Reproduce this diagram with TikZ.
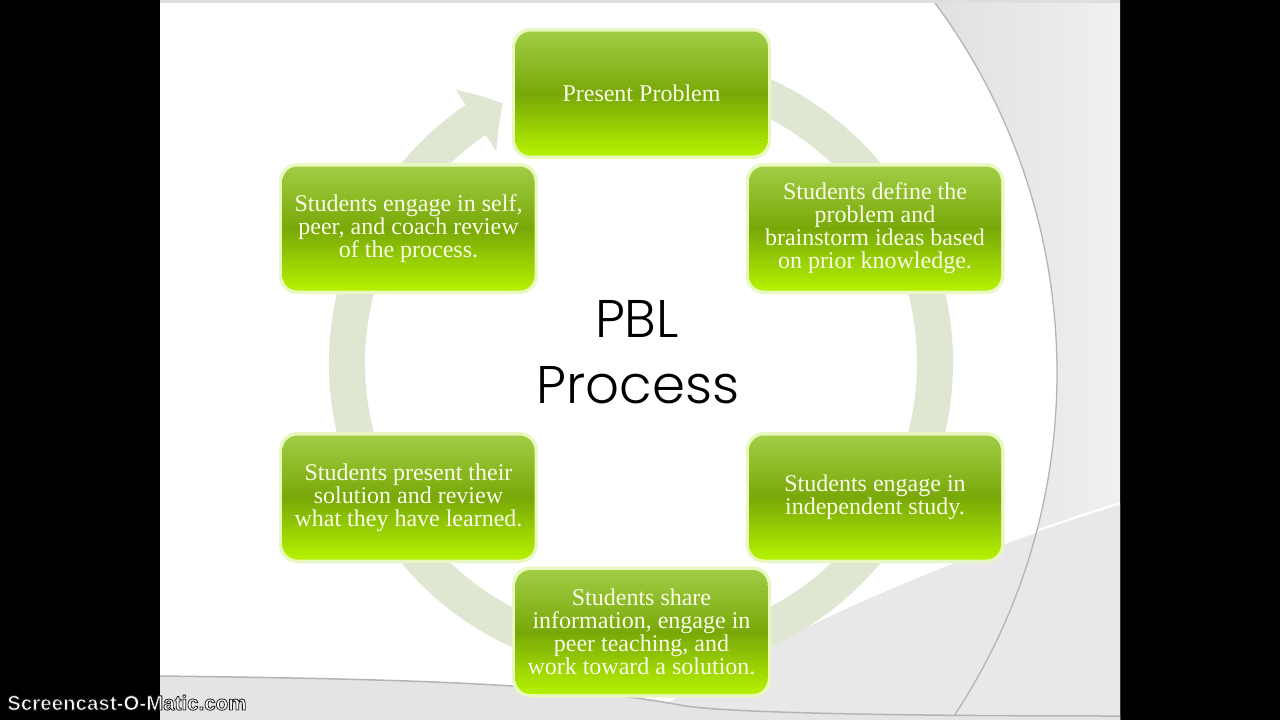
\documentclass[tikz,border=0pt]{standalone}
\usepackage{fontspec}
\setmainfont{Liberation Serif}
\newfontfamily\pblfont{Poppins Light}
\newfontfamily\scfont{Liberation Sans}
\usetikzlibrary{arrows.meta,bending}
\definecolor{ringc}{RGB}{223,231,210}
\definecolor{boxtop}{RGB}{160,205,70}
\definecolor{boxmid}{RGB}{120,168,8}
\definecolor{boxbot}{RGB}{182,242,0}
\definecolor{glowc}{RGB}{232,248,192}
\definecolor{txtc}{RGB}{250,252,232}
\definecolor{grayA}{RGB}{222,222,222}
\definecolor{grayB}{RGB}{240,240,240}
\definecolor{sweepc}{RGB}{232,232,232}
\definecolor{bandc}{RGB}{228,228,228}
\definecolor{linec}{RGB}{180,180,180}
\newcommand\scoutline[1]{{\color{white}\special{pdf:literal 2 Tr 0.8 w 0.1 0.1 0.1 RG 1 j}#1\special{pdf:literal 0 Tr}}}
\begin{document}
\begin{tikzpicture}[x=1pt,y=-1pt,
  stepbox/.style={rounded corners=15pt, minimum width=252pt, minimum height=124pt,
    top color=boxtop, bottom color=boxbot, middle color=boxmid,
    preaction={draw=glowc, line width=7pt},
    text=txtc, align=center, font=\fontsize{24}{23}\selectfont, inner sep=0pt},
  titletext/.style={font=\pblfont\fontsize{53}{60}\selectfont, text=black, anchor=base, inner sep=0pt},
]
\useasboundingbox (0,0) rectangle (1280,720);
% screen and slide
\fill[black] (0,0) rectangle (1280,720);
\begin{scope}
  \clip (160,0) rectangle (1120,720);
  \shade[left color=grayA, right color=grayB] (900,0) rectangle (1120,720);
  \fill[white] (435,373) circle (622);
  \fill[sweepc] (640,720) .. controls (760,645) and (900,575) .. (1120,505) -- (1120,720) -- cycle;
  \draw[white, line width=2pt] (640,718) .. controls (760,643) and (900,573) .. (1120,503);
  \draw[linec, line width=1.3pt] (435,373) circle (622);
  \fill[bandc] (160,676) .. controls (400,679) and (560,683) .. (680,705) .. controls (720,713) and (900,716) .. (1120,716) -- (1120,720) -- (160,720) -- cycle;
  \draw[linec, line width=1.5pt] (160,676) .. controls (400,679) and (560,683) .. (680,705) .. controls (720,713) and (900,716) .. (1120,716);
  \fill[grayA] (160,0) rectangle (1120,3);
\end{scope}
% circular arrow
\draw[ringc, line width=36pt, -{Triangle[width=72pt,length=32pt,bend]}] (641,363) ++(280:294) arc[start angle=280, end angle=602, radius=294];
% title
\node[titletext] (t1) at (637,337) {PBL};
\node[titletext] (t2) at (638,403) {Process};
% steps
\node[stepbox] (p1) at (641.5,93.5) {Present Problem};
\node[stepbox] (p2) at (875,228.5) {Students define the\\problem and\\brainstorm ideas based\\on prior knowledge.};
\node[stepbox] (p3) at (875,497.5) {Students engage in\\independent study.};
\node[stepbox] (p4) at (641.5,632) {Students share\\information, engage in\\peer teaching, and\\work toward a solution.};
\node[stepbox] (p5) at (408.5,497.5) {Students present their\\solution and review\\what they have learned.};
\node[stepbox] (p6) at (408.5,228.5) {Students engage in self,\\peer, and coach review\\of the process.};
% watermark
\node[anchor=base west, inner sep=0pt, font=\scfont\bfseries\fontsize{20.5}{22}\selectfont] (sc) at (7,710) {\scoutline{Screencast-O-Matic.com}};
\end{tikzpicture}
\end{document}
